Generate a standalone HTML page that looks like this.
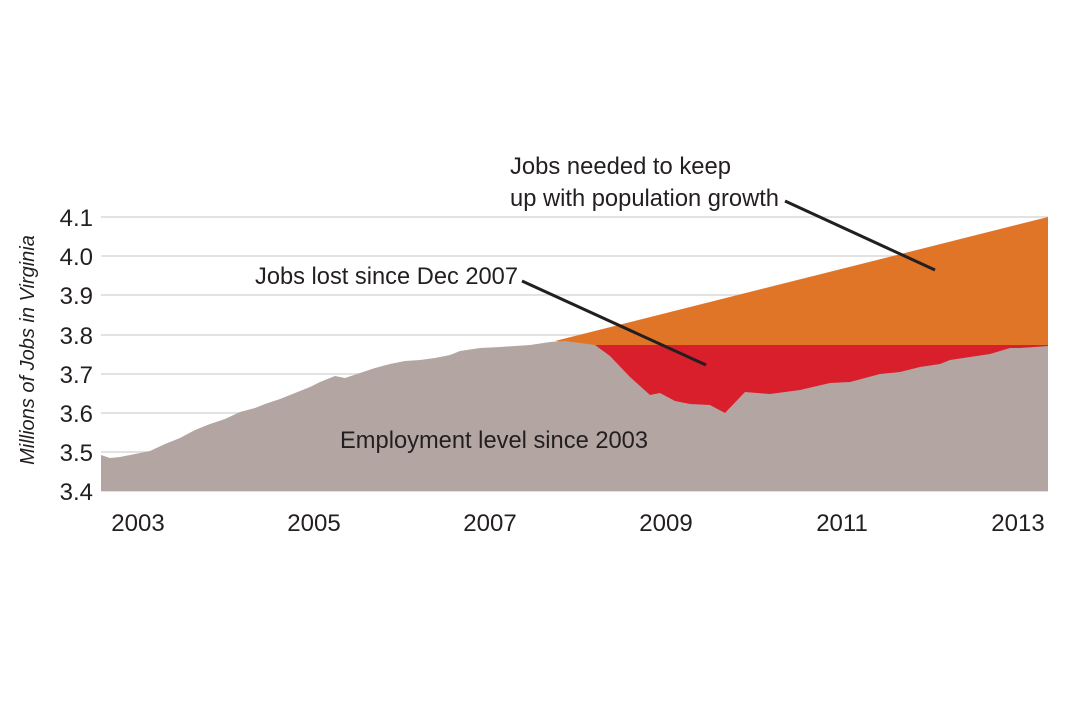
<!DOCTYPE html>
<html><head><meta charset="utf-8"><style>
html,body{margin:0;padding:0;background:#fff}
svg text{font-family:"Liberation Sans Narrow","Liberation Sans",sans-serif;fill:#231f20}
</style></head><body>
<svg width="1068" height="702" viewBox="0 0 1068 702" xmlns="http://www.w3.org/2000/svg">
<g stroke="#d9d9d9" stroke-width="1.5">
<line x1="101" y1="217" x2="1048" y2="217"/>
<line x1="101" y1="256" x2="1048" y2="256"/>
<line x1="101" y1="295" x2="1048" y2="295"/>
<line x1="101" y1="335" x2="1048" y2="335"/>
<line x1="101" y1="374" x2="1048" y2="374"/>
<line x1="101" y1="413" x2="1048" y2="413"/>
<line x1="101" y1="452" x2="1048" y2="452"/>
<line x1="101" y1="491" x2="1048" y2="491"/>
</g>
<polygon fill="#e07528" points="555,341 1048,217 1048,345 590,345"/>
<rect fill="#d91f2c" x="590" y="345" width="458" height="146"/>
<polygon fill="#b3a6a2" points="101,455 110,458 120,457 135,454 150,451 165,444 180,438 195,430 210,424 225,419 240,412 255,408 265,404 280,399 295,393 310,387 320,382 335,376 345,378 360,373 375,368 390,364 405,361 420,360 435,358 450,355 460,351 480,348 500,347 515,346 530,345 550,342 565,341 580,343 595,345 610,356 630,377 650,395 660,393 675,401 690,404 710,405 725,413 745,392 770,394 800,390 830,383 850,382 880,374 900,372 920,367 940,364 950,360 970,357 990,354 1000,351 1010,348 1020,348 1035,347 1048,346 1048,491 101,491"/>
<g stroke="#231f20" stroke-width="3">
<line x1="785" y1="201" x2="935" y2="270"/>
<line x1="522" y1="281" x2="706" y2="365"/>
</g>
<g font-size="24" text-anchor="end">
<text x="93" y="226">4.1</text>
<text x="93" y="265">4.0</text>
<text x="93" y="304">3.9</text>
<text x="93" y="344">3.8</text>
<text x="93" y="383">3.7</text>
<text x="93" y="422">3.6</text>
<text x="93" y="461">3.5</text>
<text x="93" y="500">3.4</text>
</g>
<g font-size="24" text-anchor="middle">
<text x="138" y="531">2003</text>
<text x="314" y="531">2005</text>
<text x="490" y="531">2007</text>
<text x="666" y="531">2009</text>
<text x="842" y="531">2011</text>
<text x="1018" y="531">2013</text>
</g>
<text transform="translate(34,350) rotate(-90)" font-size="20" font-style="italic" text-anchor="middle">Millions of Jobs in Virginia</text>
<text x="510" y="174" font-size="24" textLength="221" lengthAdjust="spacingAndGlyphs">Jobs needed to keep</text>
<text x="510" y="206" font-size="24" textLength="269" lengthAdjust="spacingAndGlyphs">up with population growth</text>
<text x="255" y="284" font-size="24" textLength="263" lengthAdjust="spacingAndGlyphs">Jobs lost since Dec 2007</text>
<text x="340" y="448" font-size="24" textLength="308" lengthAdjust="spacingAndGlyphs">Employment level since 2003</text>
</svg>
</body></html>
